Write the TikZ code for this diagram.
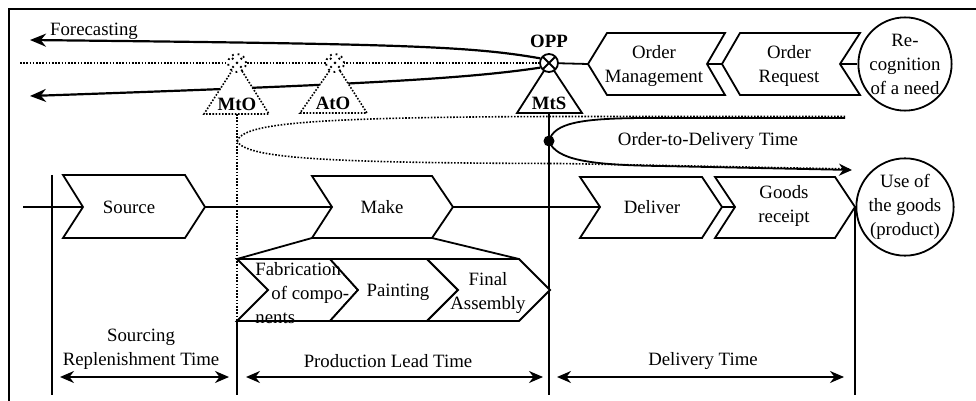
\documentclass[tikz,border=0pt]{standalone}
\usepackage{fontspec}
\setmainfont{Liberation Serif}
\usetikzlibrary{arrows.meta}

\begin{document}
\begin{tikzpicture}[x=0.5pt, y=-0.5pt,
    font=\fontsize{9.4}{12}\selectfont,
    ln/.style={line width=0.9pt, line join=miter},
    proc/.style={ln, fill=white},
    dots/.style={line width=0.8pt, dash pattern=on 0.8pt off 0.8pt},
    tag/.style={font=\fontsize{9.4}{11}\selectfont\bfseries, inner sep=0pt},
    txt/.style={align=center, inner sep=0pt},
    bubble/.style={circle, draw, line width=0.9pt, fill=white, inner sep=0pt, minimum size=44pt, align=center},
    cross/.style={circle, draw, line width=0.9pt, #1, fill=white, minimum size=9pt, inner sep=0pt,
      path picture={\draw[line width=0.9pt, #1]
        (path picture bounding box.north west) -- (path picture bounding box.south east)
        (path picture bounding box.north east) -- (path picture bounding box.south west);}},
    fc/.style={line width=1.1pt, -{Stealth[length=8pt, width=6.5pt]}},
    span/.style={line width=0.9pt, {Stealth[length=7pt, width=6pt]}-{Stealth[length=7pt, width=6pt]}}]
    \useasboundingbox (0,0) rectangle (976,401);

    % --- frame ---
    \draw[ln] (9,401) -- (9,9) -- (976,9);

    % --- order side: OPP and decoupling points ---
    \draw[proc] (549,63) -- (582,113) coordinate (mts-se) -- (517,113) -- cycle;
    \node[cross=solid] (opp) at (549,63) {};
    \node[tag] (opp-lbl) at (549,41) {OPP};
    \node[tag] (mts) at (549,103) {MtS};

    % forecasting arrows and dotted line
    \draw[dots] (20,63) -- (opp.west);
    \draw[fc] (opp.152) .. controls (470,46) and (400,44) .. (30,40);
    \draw[fc] (opp.208) .. controls (470,78) and (380,84) .. (30,96);
    \node[txt, anchor=base] (fcast) at (94,36) {Forecasting};

    % MtO / AtO (dotted)
    \draw[dots, fill=white] (237,63) -- (269,114) -- (204,114) -- cycle;
    \draw[dots, fill=white] (335,63) -- (367,113) -- (300,113) -- cycle;
    \node[cross=dotted] (mto-pt) at (237,63) {};
    \node[cross=dotted] (ato-pt) at (335,63) {};
    \node[tag] (mto) at (237,104) {MtO};
    \node[tag] (ato) at (333,103) {AtO};

    % order management chain
    \draw[proc] (588,64) coordinate (om-w) -- (607,33) -- (725,33) -- (707,64) coordinate (om-e)
        -- (725,95) -- (607,95) -- cycle;
    \draw[proc] (722,64) coordinate (or-w) -- (740,33) -- (860,33) -- (840,64) coordinate (or-e)
        -- (860,95) -- (740,95) -- cycle;
    \node[txt] (om) at (654,66) {Order\\Management};
    \node[txt] (or) at (789,66) {Order\\Request};
    \node[bubble] (need) at (905,64) {Re-\\cognition\\of a need};
    \draw[ln] (opp) -- (om-w);
    \draw[ln] (om-e) -- (or-w);
    \draw[ln] (or-e) -- (need);

    % --- order-to-delivery time ---
    \draw[dots] (237,141) .. controls (244,124) and (300,117) .. (560,116.5) -- (845,116.5);
    \draw[dots] (237,141) .. controls (246,158) and (320,163) .. (560,163.5) -- (850,169);
    \node[circle, fill, inner sep=0pt, minimum size=5.5pt] (otd) at (549,141) {};
    \draw[ln] (otd.center) .. controls (554,123) and (580,118) .. (650,118) -- (845,118);
    \draw[ln, -{Stealth[length=6.5pt, width=6pt]}] (otd.center) .. controls (556,160) and (590,165) .. (660,166) -- (852,170);
    \node[txt] (otd-lbl) at (708,141) {Order-to-Delivery Time};

    % --- vertical limits ---
    \draw[dots] (237,114) -- (237,320);
    \draw[ln] (237,320) -- (237,395);
    \draw[ln] (549,113) -- (549,395);
    \draw[ln] (52,175) -- (52,395);
    \draw[ln] (855,207) -- (855,395);

    % --- main process ---
    \draw[proc] (63,175) -- (185,175) -- (205,207) coordinate (src-e) -- (185,238) -- (63,238)
        -- (83,207) coordinate (src-w) -- cycle;
    \draw[proc] (312,176) -- (432,176) -- (453,207) coordinate (make-e) -- (432,238) coordinate (make-se)
        -- (312,238) coordinate (make-sw) -- (332,207) coordinate (make-w) -- cycle;
    \draw[proc] (580,177) -- (702,177) -- (722,207) coordinate (dlv-e) -- (702,238) -- (580,238)
        -- (600,207) coordinate (dlv-w) -- cycle;
    \draw[proc] (715,177) -- (835,177) -- (855,207) coordinate (gr-e) -- (835,238) -- (715,238)
        -- (735,207) coordinate (gr-w) -- cycle;
    \node[txt] (src) at (129,207) {Source};
    \node[txt] (make) at (382,207) {Make};
    \node[txt] (dlv) at (652,207) {Deliver};
    \node[txt] (gr) at (784,206) {Goods\\receipt};
    \node[bubble] (use) at (905,207) {Use of\\the goods\\(product)};
    \coordinate (in) at (23,207);
    \draw[ln] (in) -- (src-w);
    \draw[ln] (src-e) -- (make-w);
    \draw[ln] (make-e) -- (dlv-w);
    \draw[ln] (dlv-e) -- (gr-w);
    \draw[ln] (gr-e) -- (use);

    % --- production steps ---
    \draw[proc] (237,259) coordinate (fab-nw) -- (330,259) -- (358,290) -- (330,321) -- (237,321)
        -- (268,290) -- cycle;
    \draw[proc] (330,259) -- (427,259) -- (458,290) -- (427,321) -- (330,321) -- (358,290) -- cycle;
    \draw[proc] (427,259) -- (519,259) coordinate (fin-ne) -- (550,290) -- (519,321) -- (427,321)
        -- (458,290) -- cycle;
    \draw[ln] (make-sw) -- (fab-nw);
    \draw[ln] (make-se) -- (fin-ne);
    \node[txt, align=left, anchor=west] (fab) at (255,293) {Fabrication\\\hspace*{8pt}of compo-\\nents};
    \node[txt] (paint) at (398,292) {Painting};
    \node[txt] (fin) at (488,293) {Final\\Assembly};

    % --- time spans ---
    \draw[span] (60,377) -- (229,377);
    \draw[span] (246,377) -- (543,377);
    \draw[span] (557,377) -- (844,377);
    \node[txt] (srt) at (141,349) {Sourcing\\Replenishment Time};
    \node[txt] (plt) at (388,361) {Production Lead Time};
    \node[txt] (dt) at (703,361) {Delivery Time};
\end{tikzpicture}
\end{document}
